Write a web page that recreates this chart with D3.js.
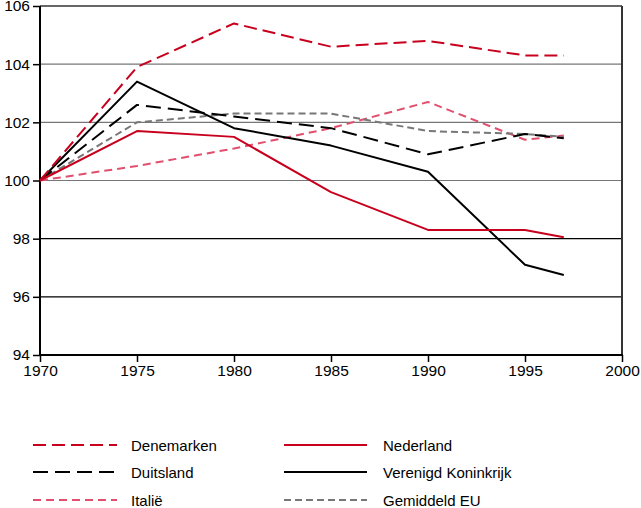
<!DOCTYPE html>
<html><head><meta charset="utf-8">
<script src="https://cdn.jsdelivr.net/npm/d3@7"></script>
<style>body{margin:0;background:#fff}svg{display:block}text{font-family:"Liberation Sans",Arial,sans-serif;fill:#000}</style>
</head><body><svg id="c" width="641" height="508"></svg>
<script>
const years = [1970, 1975, 1980, 1985, 1990, 1995, 1997];
const denemarken = [100, 103.9, 105.4, 104.6, 104.8, 104.3, 104.3];
const nederland = [100, 101.7, 101.5, 99.6, 98.3, 98.3, 98.05];
const duitsland = [100, 102.6, 102.2, 101.8, 100.9, 101.6, 101.45];
const verenigdKoninkrijk = [100, 103.4, 101.8, 101.2, 100.3, 97.1, 96.75];
const italie = [100, 100.5, 101.1, 101.8, 102.7, 101.4, 101.55];
const gemiddeldEU = [100, 102.0, 102.3, 102.3, 101.7, 101.6, 101.5];
const xTicks = [1970, 1975, 1980, 1985, 1990, 1995, 2000];
const yTicks = [94, 96, 98, 100, 102, 104, 106];

const series = [
  {name: "Denemarken", values: denemarken, color: "#c8001e", dash: "13,6", w: 2},
  {name: "Nederland", values: nederland, color: "#c8001e", dash: null, w: 2},
  {name: "Duitsland", values: duitsland, color: "#000", dash: "15,7", w: 2},
  {name: "Verenigd Koninkrijk", values: verenigdKoninkrijk, color: "#000", dash: null, w: 2},
  {name: "Italië", values: italie, color: "#e0506e", dash: "8,5", w: 2},
  {name: "Gemiddeld EU", values: gemiddeldEU, color: "#777", dash: "7,4", w: 2}
];

const svg = d3.select("#c");
const L = 40, R = 622, T = 6, B = 355;
const x = d3.scaleLinear().domain([1970, 2000]).range([L, R]);
const y = d3.scaleLinear().domain([94, 106]).range([B, T]);

// gridlines
svg.append("g").selectAll("line").data(yTicks.filter(v => v > 94 && v < 106)).join("line")
  .attr("x1", L).attr("x2", R).attr("y1", d => y(d)).attr("y2", d => y(d))
  .attr("stroke", d => d >= 100 ? "#777" : "#000").attr("stroke-width", 1.2);

// frame
svg.append("line").attr("x1", L).attr("x2", R).attr("y1", T).attr("y2", T).attr("stroke", "#333").attr("stroke-width", 1.5);
svg.append("line").attr("x1", R).attr("x2", R).attr("y1", T).attr("y2", B).attr("stroke", "#333").attr("stroke-width", 2);

const yAxis = svg.append("g").attr("transform", `translate(${L},0)`)
  .call(d3.axisLeft(y).tickValues(yTicks).tickSize(7).tickPadding(3).tickFormat(d3.format("d")));
const xAxis = svg.append("g").attr("transform", `translate(0,${B})`)
  .call(d3.axisBottom(x).tickValues(xTicks).tickSize(7).tickPadding(3).tickFormat(d3.format("d")));
[yAxis, xAxis].forEach(a => {
  a.select(".domain").remove();
  a.selectAll(".tick line").attr("stroke", "#000").attr("stroke-width", 1.5);
  a.selectAll("text").attr("font-size", 15.5).style("fill", "#000");
});
svg.append("line").attr("x1", L).attr("x2", L).attr("y1", T).attr("y2", B + 1).attr("stroke", "#000").attr("stroke-width", 2);
svg.append("line").attr("x1", L - 1).attr("x2", R + 1).attr("y1", B).attr("y2", B).attr("stroke", "#000").attr("stroke-width", 2);

const line = d3.line().x((d, i) => x(years[i])).y(d => y(d));
const drawOrder = [4, 5, 2, 3, 1, 0];
drawOrder.forEach(i => {
  const s = series[i];
  svg.append("path").attr("d", line(s.values)).attr("fill", "none")
    .attr("stroke", s.color).attr("stroke-width", s.w)
    .attr("stroke-dasharray", s.dash).attr("stroke-linejoin", "round");
});

// legend
const legRows = [445, 472, 500];
const legCols = [{x1: 33, x2: 117, tx: 131}, {x1: 284, x2: 367, tx: 383}];
series.forEach((s, i) => {
  const c = legCols[i % 2], r = legRows[Math.floor(i / 2)];
  svg.append("line").attr("x1", c.x1).attr("x2", c.x2).attr("y1", r).attr("y2", r)
    .attr("stroke", s.color).attr("stroke-width", 2).attr("stroke-dasharray", s.dash);
  svg.append("text").attr("x", c.tx).attr("y", r + 5.5).attr("font-size", 15).text(s.name);
});
</script></body></html>
